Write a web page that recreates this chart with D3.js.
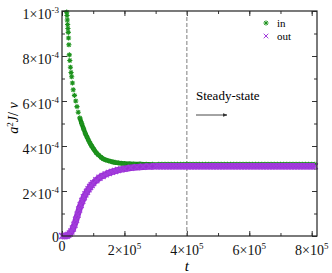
<!DOCTYPE html>
<html>
<head>
<meta charset="utf-8">
<script src="https://cdn.jsdelivr.net/npm/d3@7"></script>
<style>
    body { margin: 0; background: #fff; }
</style>
</head>
<body>
<div id="chart"></div>
<script>
// values in units of 1e-4
const steadyT = [310000,320000,330000,340000,350000,360000,370000,380000,390000,400000,
    410000,420000,430000,440000,450000,460000,470000,480000,490000,500000,
    510000,520000,530000,540000,550000,560000,570000,580000,590000,600000,
    610000,620000,630000,640000,650000,660000,670000,680000,690000,700000,
    710000,720000,730000,740000,750000,760000,770000,780000,790000,800000,810000];

const inT = [15000,16000,17000,18000,19000,20000,21000,22000,23500,25000,
    27000,29000,31000,33500,36000,40000,44000,48000,52000,57000,
    63000,69000,75000,80000,85000,90000,95000,102000,110000,117000,
    125000,132000,140000,150000,160000,170000,180000,190000,200000,215000,
    230000,250000,270000,290000].concat(steadyT);
const inVal = [9.95,9.8,9.6,9.4,9.22,9.05,8.8,8.5,8.05,7.8,
    7.5,7.27,7.08,6.8,6.5,6.25,6.0,5.75,5.5,5.25,
    5.0,4.77,4.55,4.4,4.25,4.12,4.0,3.85,3.7,3.6,
    3.5,3.43,3.38,3.34,3.3,3.27,3.25,3.23,3.22,3.21,
    3.2,3.2,3.19,3.18,
    3.18,3.18,3.18,3.18,3.18,3.18,3.18,3.18,3.18,3.18,
    3.18,3.18,3.18,3.18,3.18,3.18,3.18,3.18,3.18,3.18,
    3.18,3.18,3.18,3.18,3.18,3.18,3.18,3.18,3.18,3.18,
    3.18,3.18,3.18,3.18,3.18,3.18,3.18,3.18,3.18,3.18,
    3.18,3.18,3.18,3.18,3.18,3.18,3.18,3.18,3.18,3.18,3.18];

const outT = [0,5000,10000,15000,20000,25000,30000,35000,40000,45000,
    50000,55000,60000,65000,70000,75000,80000,85000,90000,95000,
    100000,110000,120000,130000,140000,150000,160000,170000,180000,190000,
    200000,220000,240000,260000,280000,300000].concat(steadyT);
const outVal = [0,0,0,0.01,0.05,0.11,0.2,0.33,0.5,0.72,
    0.95,1.18,1.38,1.56,1.72,1.85,1.97,2.08,2.18,2.27,
    2.35,2.48,2.59,2.67,2.74,2.8,2.85,2.89,2.93,2.96,
    2.99,3.03,3.06,3.08,3.09,3.1,
    3.1,3.1,3.1,3.1,3.1,3.1,3.1,3.1,3.1,3.1,
    3.1,3.1,3.1,3.1,3.1,3.1,3.1,3.1,3.1,3.1,
    3.1,3.1,3.1,3.1,3.1,3.1,3.1,3.1,3.1,3.1,
    3.1,3.1,3.1,3.1,3.1,3.1,3.1,3.1,3.1,3.1,
    3.1,3.1,3.1,3.1,3.1,3.1,3.1,3.1,3.1,3.1,3.1];

const xMajor = [0, 200000, 400000, 600000, 800000];
const xLabels = [["0", ""], ["2", "5"], ["4", "5"], ["6", "5"], ["8", "5"]];
const yMajor = [0, 2, 4, 6, 8, 10];
const yLabels = [["0", ""], ["2", "-4"], ["4", "-4"], ["6", "-4"], ["8", "-4"], ["1", "-3"]];
const steadyStart = 400000;
const seriesNames = ["in", "out"];

const margin = {top: 11, right: 15, bottom: 37, left: 62};
const width = 332 - margin.left - margin.right;
const height = 273 - margin.top - margin.bottom;
const serif = "Times New Roman, Liberation Serif, DejaVu Serif, serif";

const svg = d3.select("#chart").append("svg")
    .attr("width", 332)
    .attr("height", 273)
    .attr("font-family", serif);
const g = svg.append("g")
    .attr("transform", `translate(${margin.left},${margin.top})`);

const x = d3.scaleLinear().domain([0, 817000]).range([0, width]);
const y = d3.scaleLinear().domain([0, 10]).range([height, 0]);

const green = "#1c921c", greenDark = "#128612";
const purple = "#9a30d4", purpleLight = "#a23ddc";

// inward ticks on all four sides
function tickAxis(axis, vals, size, transform) {
    g.append("g")
        .attr("transform", transform)
        .call(axis.tickValues(vals).tickSize(size).tickFormat(""))
        .call(s => s.select(".domain").remove())
        .selectAll("line").attr("stroke", "#333");
}
const xMinor = x.ticks(8), yMinor = y.ticks(10);
tickAxis(d3.axisBottom(x), xMinor, -3, `translate(0,${height})`);
tickAxis(d3.axisBottom(x), xMajor, -5, `translate(0,${height})`);
tickAxis(d3.axisTop(x), xMinor, -3, "translate(0,0)");
tickAxis(d3.axisTop(x), xMajor, -5, "translate(0,0)");
tickAxis(d3.axisLeft(y), yMinor, -3, "translate(0,0)");
tickAxis(d3.axisLeft(y), yMajor, -5, "translate(0,0)");
tickAxis(d3.axisRight(y), yMinor, -3, `translate(${width},0)`);
tickAxis(d3.axisRight(y), yMajor, -5, `translate(${width},0)`);

// steady-state marker line
g.append("line")
    .attr("x1", x(steadyStart)).attr("x2", x(steadyStart))
    .attr("y1", 0).attr("y2", height)
    .attr("stroke", "#8a8a8a").attr("stroke-width", 1.1)
    .attr("stroke-dasharray", "4,2");

// tick labels
xMajor.forEach((v, i) => {
    let t = g.append("text")
        .attr("x", x(v))
        .attr("y", height + (xLabels[i][1] ? 19 : 15))
        .attr("text-anchor", "middle")
        .attr("font-family", serif)
        .attr("fill", "#111")
        .attr("font-size", 14);
    t.append("tspan").text(xLabels[i][0] + (xLabels[i][1] ? "\u00d710" : ""));
    if (xLabels[i][1]) t.append("tspan").attr("dy", -6).attr("font-size", 9).text(xLabels[i][1]);
});
yMajor.forEach((v, i) => {
    let t = g.append("text")
        .attr("x", -3)
        .attr("y", y(v) + (yLabels[i][1] ? 7.5 : 5.5))
        .attr("text-anchor", "end")
        .attr("font-family", serif)
        .attr("fill", "#111")
        .attr("font-size", 14);
    t.append("tspan").text(yLabels[i][0] + (yLabels[i][1] ? "\u00d710" : ""));
    if (yLabels[i][1]) t.append("tspan").attr("dy", -6).attr("font-size", 9).text(yLabels[i][1]);
});

// axis titles
g.append("text")
    .attr("x", x(steadyStart)).attr("y", height + 35)
    .attr("text-anchor", "middle")
    .attr("font-family", serif)
    .attr("font-size", 15).attr("font-style", "italic")
    .text("t");

let yt = svg.append("text")
    .attr("transform", "translate(18,118) rotate(-90)")
    .attr("text-anchor", "middle")
    .attr("font-family", serif)
    .attr("font-size", 14);
yt.append("tspan").attr("font-style", "italic").text("a");
yt.append("tspan").attr("dy", -5).attr("font-size", 9).text("2");
yt.append("tspan").attr("dy", 5).attr("font-style", "italic").text("J");
yt.append("tspan").text("/ ");
yt.append("tspan").attr("font-style", "italic").text("\u03bd");

// marker shapes
function star(sel, r) {
    let d = r * Math.SQRT1_2;
    sel.append("path")
        .attr("d", `M${-r},0H${r}M0,${-r}V${r}M${-d},${-d}L${d},${d}M${-d},${d}L${d},${-d}`);
}
function cross(sel, r) {
    sel.append("path").attr("d", `M${-r},${-r}L${r},${r}M${-r},${r}L${r},${-r}`);
}

const line = d3.line()
    .x(d => x(d[0]))
    .y(d => y(d[1]))
    .curve(d3.curveMonotoneX);

const inData = inT.map((t, i) => [t, inVal[i]]);
const outData = outT.map((t, i) => [t, outVal[i]]);

// in series
g.append("path")
    .datum(inData.filter(d => d[0] > 55000))
    .attr("d", line)
    .attr("fill", "none")
    .attr("stroke", greenDark)
    .attr("stroke-width", 4.5);
g.append("g").selectAll(".in-pt")
    .data(inData)
    .enter().append("g")
    .attr("class", "in-pt")
    .attr("transform", d => `translate(${x(d[0])},${y(d[1])})`)
    .attr("stroke", green)
    .attr("stroke-width", 1.1)
    .each(function() { star(d3.select(this), 2.6); });

// out series
g.append("path")
    .datum(outData)
    .attr("d", line)
    .attr("fill", "none")
    .attr("stroke", purple)
    .attr("stroke-width", 6.5);
g.append("g").selectAll(".out-pt")
    .data(outData)
    .enter().append("g")
    .attr("class", "out-pt")
    .attr("transform", d => `translate(${x(d[0])},${y(d[1])})`)
    .attr("stroke", purpleLight)
    .attr("stroke-width", 1.3)
    .each(function() { cross(d3.select(this), 3); });

// frame
g.append("rect")
    .attr("width", width).attr("height", height)
    .attr("fill", "none").attr("stroke", "#222").attr("stroke-width", 1.2);

// legend
const legend = svg.append("g").attr("transform", "translate(266,23)");
seriesNames.forEach((name, i) => {
    let row = legend.append("g").attr("transform", `translate(0,${i * 13})`);
    let m = row.append("g")
        .attr("stroke", i === 0 ? green : purpleLight)
        .attr("stroke-width", 1);
    if (i === 0) star(m, 2.6); else cross(m, 2.3);
    row.append("text")
        .attr("x", 11).attr("y", 4)
        .attr("font-family", serif)
        .attr("font-size", 11)
        .text(name);
});

// steady-state annotation
svg.append("text")
    .attr("x", 196).attr("y", 100)
    .attr("font-family", serif)
    .attr("font-size", 13)
    .text("Steady-state");
svg.append("defs").append("marker")
    .attr("id", "head")
    .attr("viewBox", "0 0 10 10")
    .attr("refX", 9).attr("refY", 5)
    .attr("markerWidth", 5).attr("markerHeight", 5)
    .attr("orient", "auto")
    .append("path").attr("d", "M0,1L10,5L0,9Z").attr("fill", "#333");
svg.append("line")
    .attr("x1", 196).attr("x2", 227)
    .attr("y1", 115).attr("y2", 115)
    .attr("stroke", "#333").attr("stroke-width", 0.9)
    .attr("marker-end", "url(#head)");
</script>
</body>
</html>
